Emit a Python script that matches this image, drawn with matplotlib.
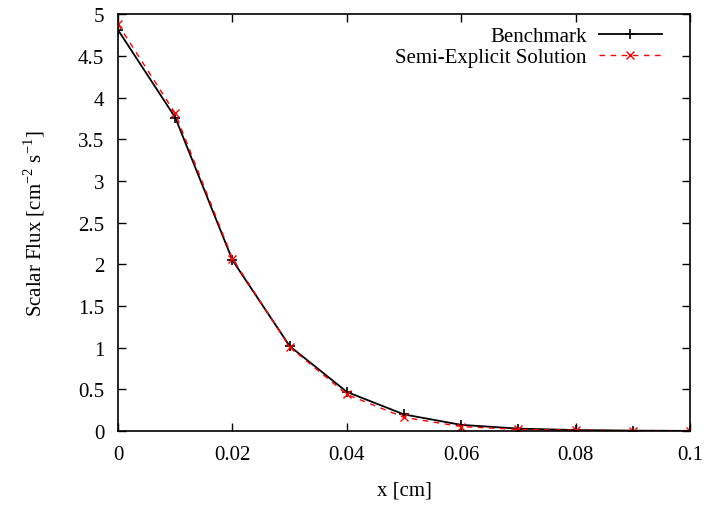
import matplotlib
matplotlib.use("Agg")
import matplotlib.pyplot as plt
import numpy as np

plt.rcParams['font.family'] = ['Liberation Serif', 'DejaVu Serif']
plt.rcParams['mathtext.fontset'] = 'custom'
plt.rcParams['mathtext.rm'] = 'Liberation Serif'

x = [0.0, 0.01, 0.02, 0.03, 0.04, 0.05, 0.06, 0.07, 0.08, 0.09, 0.1]
benchmark = [4.81, 3.76, 2.05, 1.02, 0.47, 0.20, 0.075, 0.03, 0.013, 0.006, 0.003]
semi_explicit = [4.88, 3.81, 2.07, 1.01, 0.44, 0.165, 0.055, 0.02, 0.01, 0.005, 0.003]

fig = plt.figure(figsize=(7.07, 5.06), dpi=100)
ax = fig.add_axes([0.167, 0.146, 0.809, 0.824])

ax.plot(x, benchmark, '-', color='black', lw=1.3, marker='+', ms=7, mew=1.2,
        label='Benchmark')
ax.plot(x, semi_explicit, '--', color='red', lw=1.0, marker='x', ms=6, mew=1.0,
        dashes=(4, 4), label='Semi-Explicit Solution')

ax.set_xlim(0, 0.1)
ax.set_ylim(0, 5)
ax.set_xticks(np.arange(0, 0.101, 0.02))
ax.set_xticklabels(['0', '0.02', '0.04', '0.06', '0.08', '0.1'])
ax.set_yticks(np.arange(0, 5.01, 0.5))
ax.set_yticklabels(['0', '0.5', '1', '1.5', '2', '2.5', '3', '3.5', '4', '4.5', '5'])
ax.tick_params(direction='in', top=True, right=True, length=6, width=1,
               labelsize=15, pad=10)
for s in ax.spines.values():
    s.set_linewidth(1.2)

ax.set_xlabel('x [cm]', fontsize=15, labelpad=12)
ax.set_ylabel(r'Scalar Flux [cm$^{-2}$ s$^{-1}$]', fontsize=15, labelpad=22)

ax.legend(loc='upper right', frameon=False, markerfirst=False, fontsize=15,
          handlelength=3.0, handletextpad=0.6, borderaxespad=0.2,
          labelspacing=0.05, bbox_to_anchor=(0.972, 1.0))

fig.savefig('out.png', dpi=100)
